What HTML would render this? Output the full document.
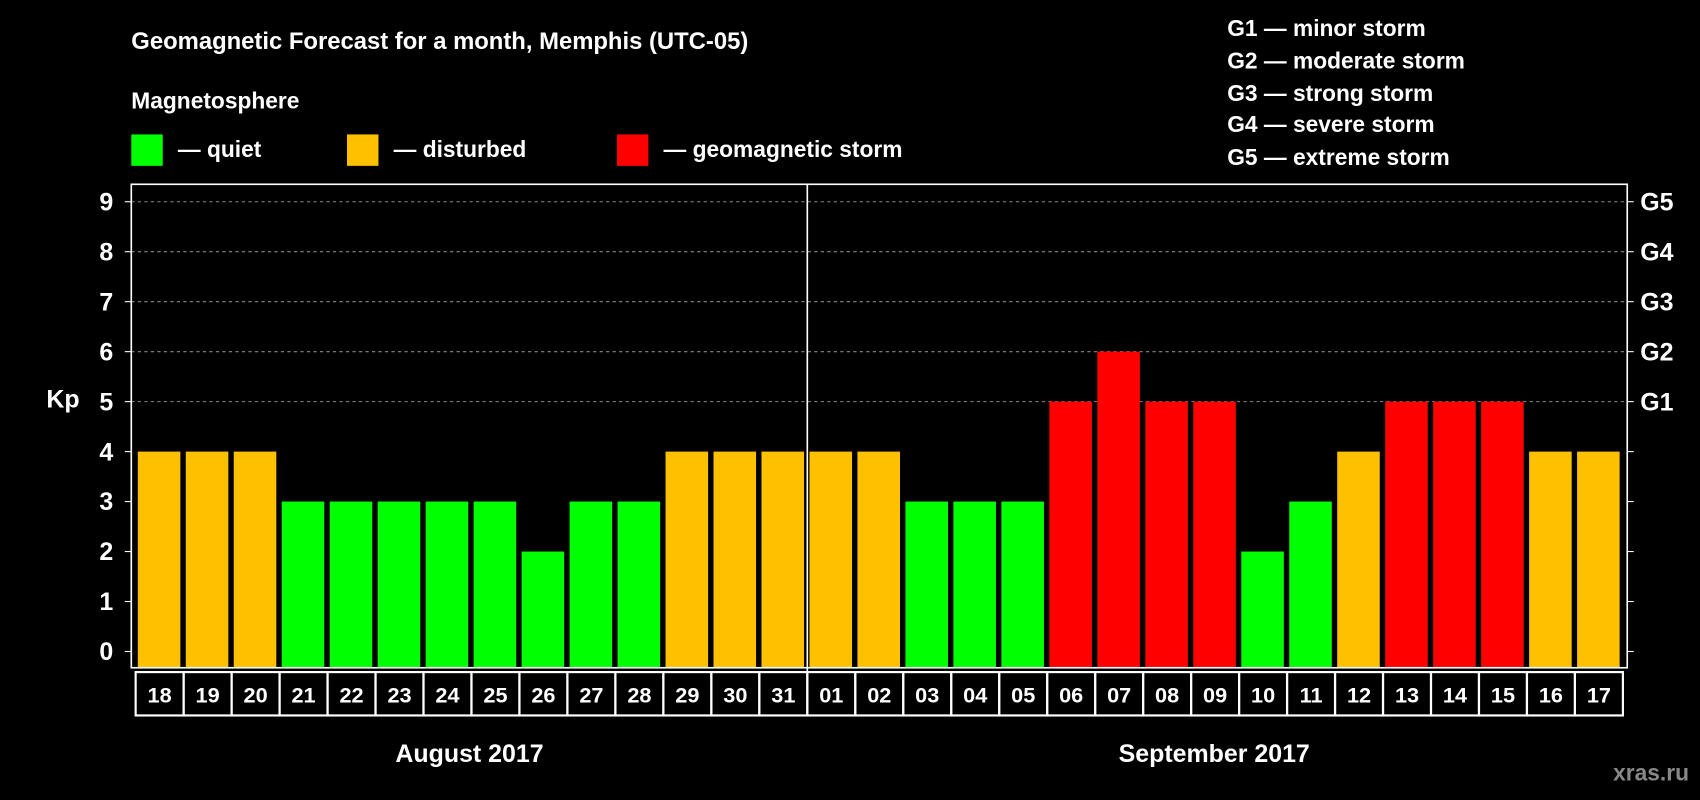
<!DOCTYPE html>
<html><head><meta charset="utf-8"><style>
html,body{margin:0;padding:0;background:#000;width:1700px;height:800px;overflow:hidden}
svg{display:block}
text{font-family:"Liberation Sans",Arial,sans-serif;font-weight:bold;fill:#fff}
</style></head><body>
<svg id="chart" width="1700" height="800" viewBox="0 0 1568 738" xmlns="http://www.w3.org/2000/svg">
<rect x="0" y="0" width="1568" height="738" fill="#000"/>
<text x="121" y="45" font-size="22">Geomagnetic Forecast for a month, Memphis (UTC-05)</text>
<text x="121" y="100" font-size="21">Magnetosphere</text>
<g><rect x="121" y="124" width="29" height="29" fill="#00ff00"/><text x="164" y="145" font-size="21">— quiet</text></g>
<g><rect x="320" y="124" width="29" height="29" fill="#ffc000"/><text x="363" y="145" font-size="21">— disturbed</text></g>
<g><rect x="569" y="124" width="29" height="29" fill="#ff0000"/><text x="612" y="145" font-size="21">— geomagnetic storm</text></g>
<g font-size="21">
<text x="1132" y="33">G1 — minor storm</text>
<text x="1132" y="63">G2 — moderate storm</text>
<text x="1132" y="93">G3 — strong storm</text>
<text x="1132" y="122">G4 — severe storm</text>
<text x="1132" y="152">G5 — extreme storm</text>
</g>
<text x="58" y="376" font-size="23" text-anchor="middle">Kp</text>
<g id="grid"></g><g id="bars"></g><g id="axes"></g>
<text x="433" y="703" font-size="23" text-anchor="middle">August 2017</text>
<text x="1120" y="703" font-size="23" text-anchor="middle">September 2017</text>
<text x="1558" y="720" font-size="21" text-anchor="end" style="fill:#888">xras.ru</text>
</svg>
<script>
const days=["18","19","20","21","22","23","24","25","26","27","28","29","30","31","01","02","03","04","05","06","07","08","09","10","11","12","13","14","15","16","17"];
const kpValues=[4,4,4,3,3,3,3,3,2,3,3,4,4,4,4,4,3,3,3,5,6,5,5,2,3,4,5,5,5,4,4];
const yTicks=[0,1,2,3,4,5,6,7,8,9];
const gLabels=["G1","G2","G3","G4","G5"];
const gLevels=[5,6,7,8,9];

const NS="http://www.w3.org/2000/svg";
const X0=121,X1=1501,TOP=170,BOT=616,SLOT0=125,SLOTW=(1497-125)/days.length;
const y=v=>601-46.1*v;
const x=i=>SLOT0+i*SLOTW;
function mk(tag,attrs,parent){const e=document.createElementNS(NS,tag);for(const k in attrs)e.setAttribute(k,attrs[k]);parent.appendChild(e);return e;}
const grid=document.getElementById('grid'),bars=document.getElementById('bars'),axes=document.getElementById('axes');
gLevels.forEach(v=>{const l=mk('line',{x1:X0,x2:X1,y1:y(v),y2:y(v),stroke:'#888','stroke-dasharray':'3,3','stroke-width':1},grid);

});
kpValues.forEach((v,i)=>{const c=v>=5?'#ff0000':(v>=4?'#ffc000':'#00ff00');
const r=mk('rect',{x:x(i)+2,y:y(v),width:SLOTW-5,height:BOT-y(v),fill:c},bars);


const b=mk('rect',{x:x(i),y:620,width:SLOTW,height:40,fill:'none',stroke:'#fff','stroke-width':2},axes);


const t=mk('text',{x:x(i)+SLOTW/2,y:648,'font-size':20,'text-anchor':'middle'},axes);t.textContent=days[i];

});
const f=mk('rect',{x:X0,y:TOP,width:X1-X0,height:BOT-TOP,fill:'none',stroke:'#fff','stroke-width':1.5},axes);


const d=mk('line',{x1:x(14),x2:x(14),y1:TOP,y2:660,stroke:'#fff','stroke-width':1.5},axes);


yTicks.forEach(v=>{mk('line',{x1:X0-6,x2:X0,y1:y(v),y2:y(v),stroke:'#fff'},axes);mk('line',{x1:X1,x2:X1+6,y1:y(v),y2:y(v),stroke:'#fff'},axes);
const t=mk('text',{x:98,y:y(v)+8,'font-size':23,'text-anchor':'middle'},axes);t.textContent=v;

});
gLevels.forEach((v,i)=>{const t=mk('text',{x:1513,y:y(v)+8,'font-size':23},axes);t.textContent=gLabels[i];

});
</script>
</body></html>
